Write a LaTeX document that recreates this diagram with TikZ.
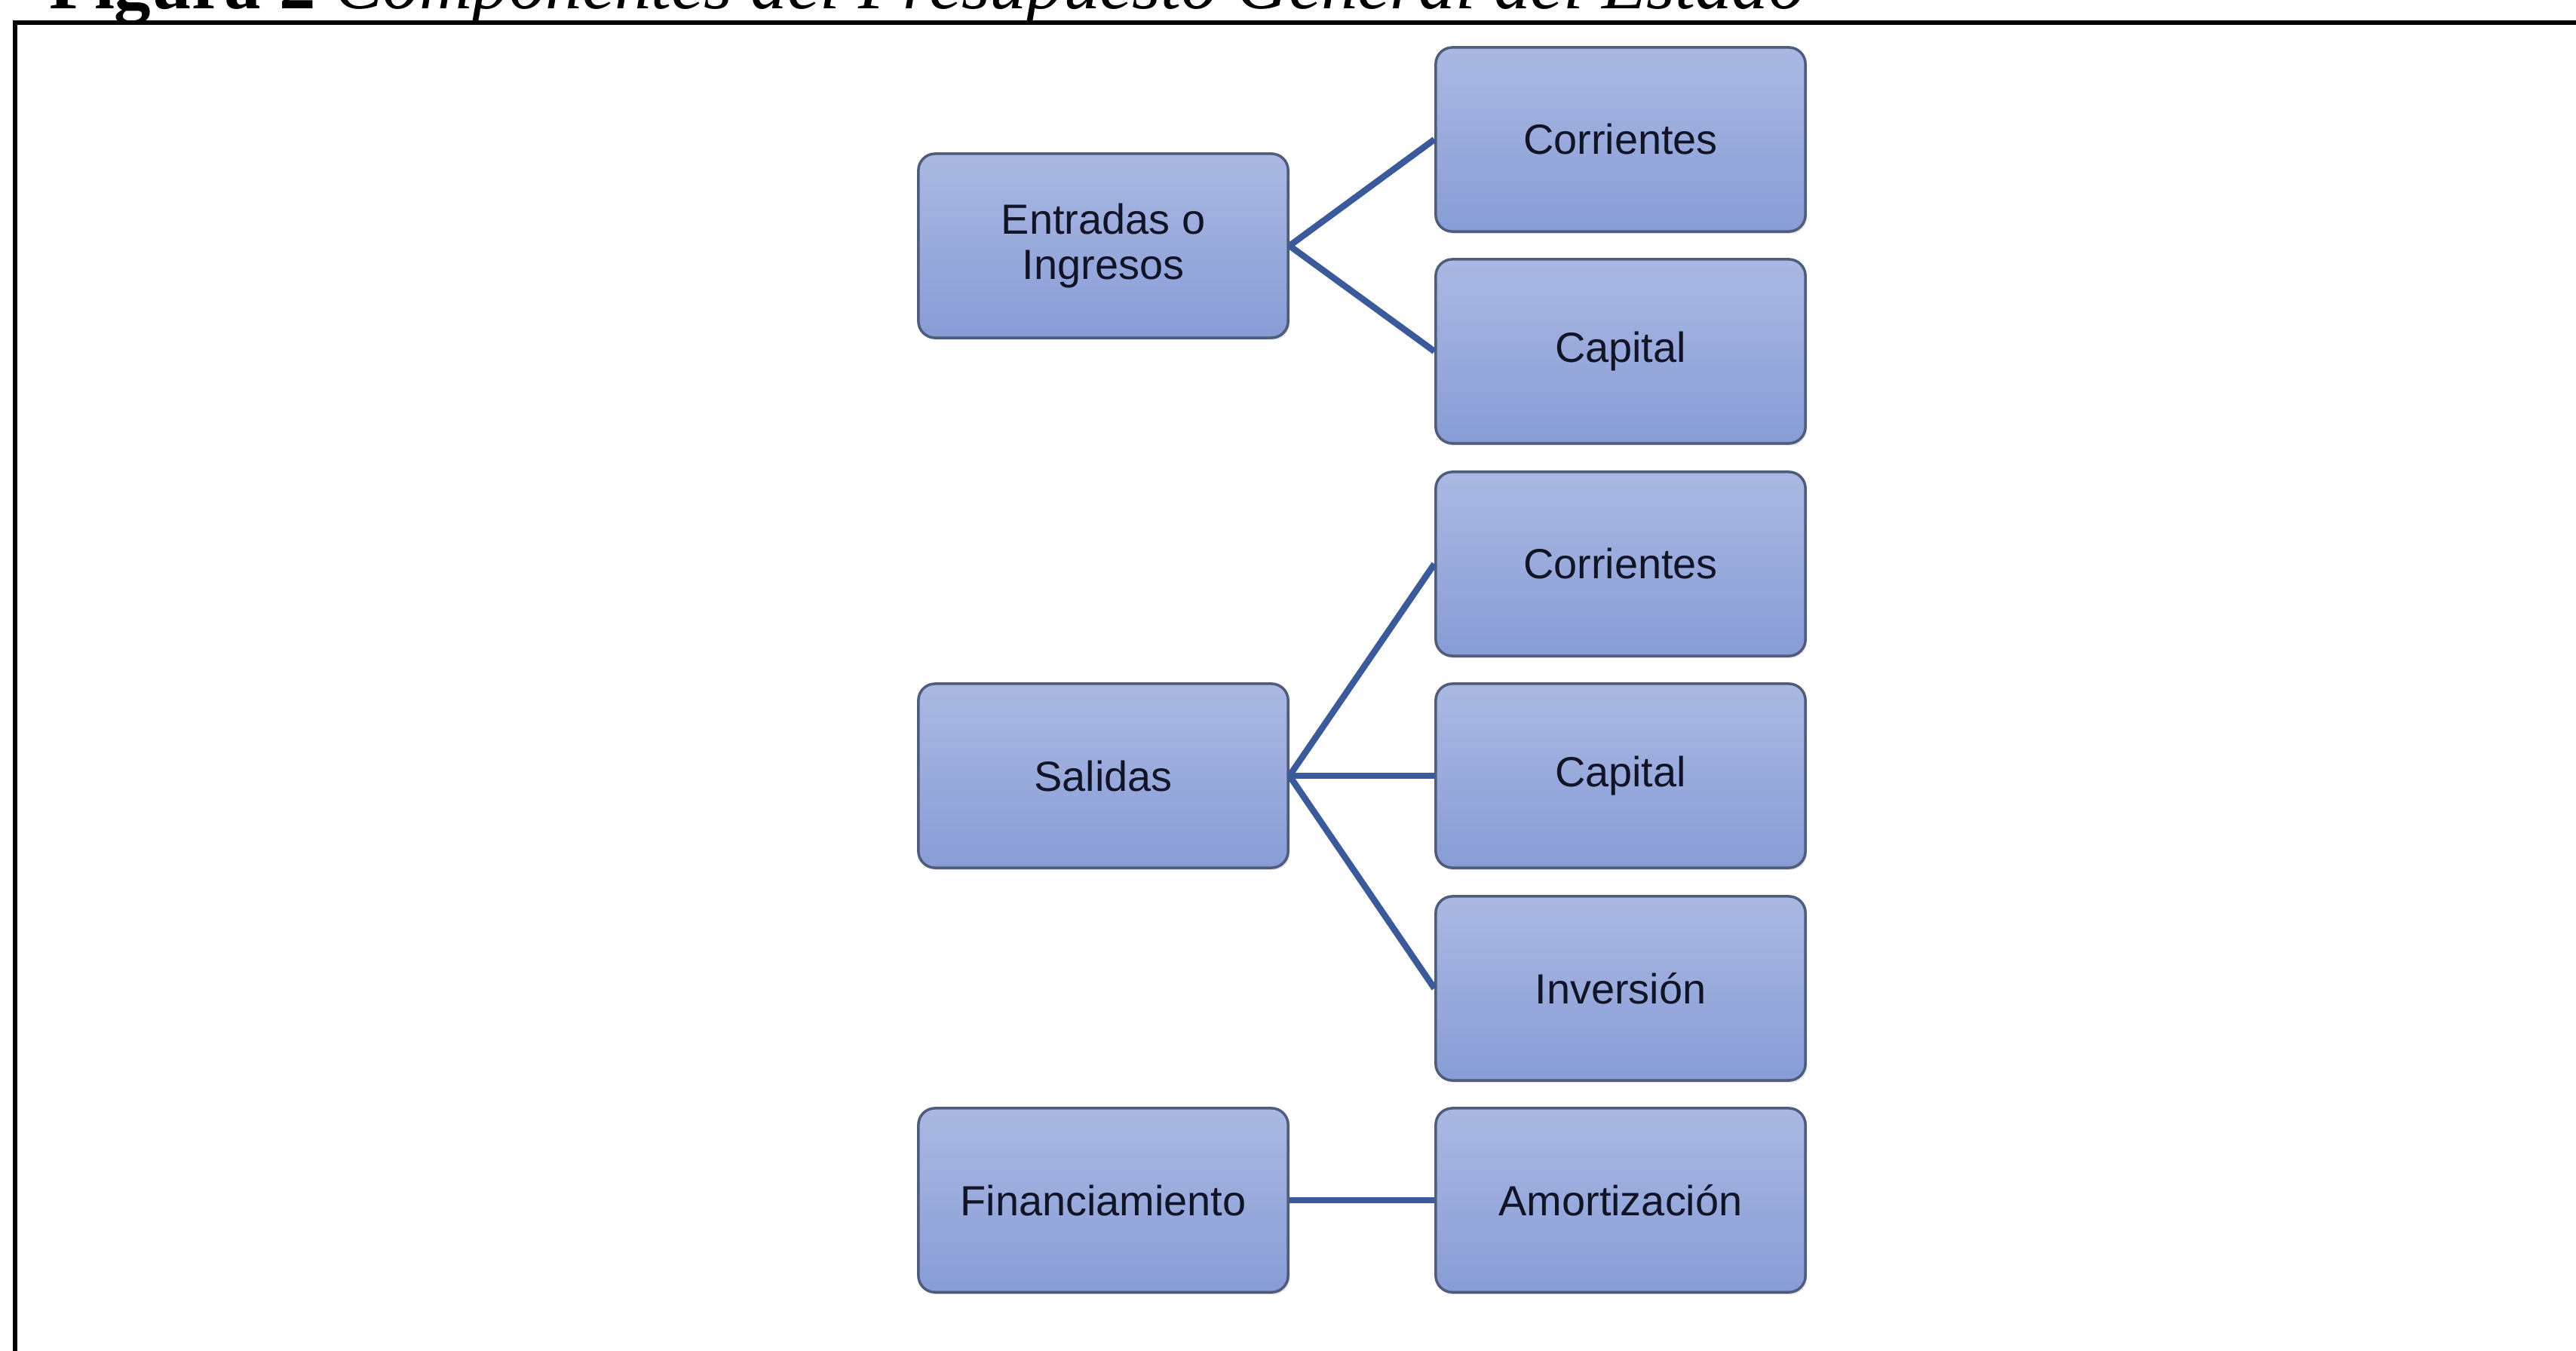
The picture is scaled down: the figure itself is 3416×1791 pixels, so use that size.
\documentclass[tikz,border=0pt]{standalone}
\usepackage{fontspec}
\setmainfont{Liberation Sans}
\newfontfamily\capfont{Liberation Serif}
\usetikzlibrary{shadows}
\definecolor{boxtop}{HTML}{AAB8E2}
\definecolor{boxbot}{HTML}{889CD6}
\definecolor{boxline}{HTML}{4F5C7C}
\definecolor{linkc}{HTML}{3B5A9A}
\definecolor{txtc}{HTML}{111426}
\tikzset{
  budgetbox/.style={draw=boxline, line width=1pt, rounded corners=0.22cm,
    top color=boxtop, bottom color=boxbot, minimum width=4.9cm, minimum height=2.44cm,
    inner sep=0pt, align=center, text=txtc,
    font=\fontsize{15.9}{17}\selectfont,
    drop shadow={shadow xshift=0.6pt, shadow yshift=-0.8pt, opacity=0.25}},
  linkline/.style={draw=linkc, line width=2.4pt},
  framel/.style={draw=black, line width=1.45pt}
}
\begin{document}
\begin{tikzpicture}[x=0.01cm, y=-0.01cm]
\useasboundingbox (0,0) rectangle (3416,1791);
\node[anchor=base west, inner sep=0pt, font=\capfont\fontsize{27.6}{30}\selectfont] (cap) at (65,12)
  {\textbf{Figura 2} \textit{Componentes del Presupuesto General del Estado}};
\draw[framel] (20,1820) -- (20,30) -- (3440,30);
% left column
\node[budgetbox] (ent) at (1463,326) {Entradas o\\Ingresos};
\node[budgetbox] (sal) at (1463,1029) {Salidas};
\node[budgetbox] (fin) at (1463,1592) {Financiamiento};
% right column
\node[budgetbox] (c1) at (2149,185) {Corrientes};
\node[budgetbox] (k1) at (2149,466) {Capital};
\node[budgetbox] (c2) at (2149,748) {Corrientes};
\node[budgetbox] (k2) at (2149,1029) {Capital};
\node[budgetbox] (inv) at (2149,1311) {Inversión};
\node[budgetbox] (amo) at (2149,1592) {Amortización};
% connectors
\draw[linkline] (ent.east) -- (c1.west);
\draw[linkline] (ent.east) -- (k1.west);
\draw[linkline] (sal.east) -- (c2.west);
\draw[linkline] (sal.east) -- (k2.west);
\draw[linkline] (sal.east) -- (inv.west);
\draw[linkline] (fin.east) -- (amo.west);
\end{tikzpicture}
\end{document}
